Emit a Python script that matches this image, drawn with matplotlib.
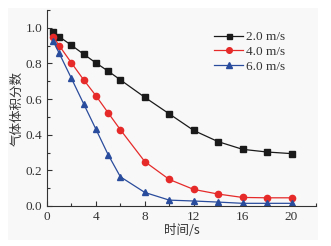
import matplotlib
matplotlib.use("Agg")
import matplotlib.pyplot as plt
from matplotlib.patches import Rectangle
from matplotlib.ticker import MultipleLocator

t = [0.5, 1, 2, 3, 4, 5, 6, 8, 10, 12, 14, 16, 18, 20]
v2 = [0.976, 0.950, 0.902, 0.852, 0.803, 0.757, 0.708, 0.610, 0.517, 0.424, 0.361, 0.318, 0.303, 0.294]
v4 = [0.950, 0.900, 0.803, 0.708, 0.619, 0.523, 0.428, 0.249, 0.149, 0.093, 0.067, 0.048, 0.046, 0.046]
v6 = [0.926, 0.857, 0.716, 0.573, 0.431, 0.288, 0.164, 0.076, 0.033, 0.028, 0.022, 0.015, 0.015, 0.015]
labels = ["2.0 m/s", "4.0 m/s", "6.0 m/s"]
xlabel = "时间/s"
ylabel = "气体体积分数"

serif = "Liberation Serif"
cjk = ["Noto Sans CJK SC", "DejaVu Sans"]

fig = plt.figure(figsize=(3.31, 2.46), dpi=100, facecolor="white")
fig.patches.append(Rectangle((8/331, 1-240/246), 310/331, 232/246, transform=fig.transFigure,
                             facecolor="#f8f8f8", edgecolor="none", zorder=-10))
ax = fig.add_axes([47/331, 1-206/246, 269/331, 196/246])
ax.set_facecolor("none")

ax.plot(t, v2, "-s", color="#1a1a1a", lw=0.9, ms=4, label=labels[0])
ax.plot(t, v4, "-o", color="#e62a2a", lw=0.9, ms=4.5, label=labels[1])
ax.plot(t, v6, "-^", color="#2a4c9c", lw=0.9, ms=4.5, label=labels[2])

ax.set_xlim(0, 22)
ax.set_ylim(0, 1.1)
ax.xaxis.set_major_locator(MultipleLocator(4))
ax.xaxis.set_minor_locator(MultipleLocator(2))
ax.yaxis.set_major_locator(MultipleLocator(0.2))
ax.yaxis.set_minor_locator(MultipleLocator(0.1))
ax.tick_params(which="both", direction="in", width=0.8, color="#333333")
ax.tick_params(which="major", length=3.5, labelsize=9.5, labelcolor="#333333")
ax.tick_params(which="minor", length=2)
ax.set_xticks([0, 4, 8, 12, 16, 20])
ax.set_yticks([0.0, 0.2, 0.4, 0.6, 0.8, 1.0])
ax.set_yticklabels(["0.0", "0.2", "0.4", "0.6", "0.8", "1.0"])
for lab in ax.get_xticklabels() + ax.get_yticklabels():
    lab.set_family(serif)
for s in ["top", "right"]:
    ax.spines[s].set_visible(False)
for s in ["left", "bottom"]:
    ax.spines[s].set_color("#333333")
    ax.spines[s].set_linewidth(0.8)

ax.set_xlabel(xlabel, family=cjk, fontsize=9, color="#333333", labelpad=1)
ax.set_ylabel(ylabel, family=cjk, fontsize=9, color="#333333", labelpad=1)

leg = ax.legend(loc="upper right", bbox_to_anchor=(0.92, 0.94), frameon=False,
                prop={"family": serif, "size": 9.5}, handlelength=2.2,
                handletextpad=0.2, labelspacing=0.2, borderpad=0.2, markerscale=0.9)
for txt in leg.get_texts():
    txt.set_color("#333333")

fig.savefig("out.png", dpi=100, facecolor="white")
